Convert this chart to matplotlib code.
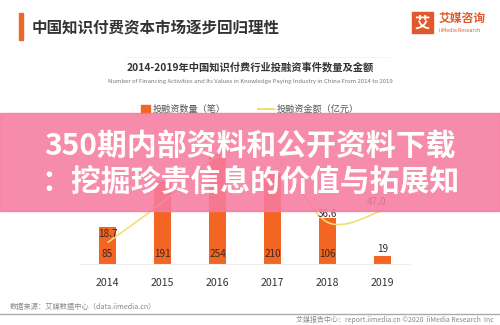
import matplotlib
matplotlib.use("Agg")
import matplotlib.pyplot as plt
from matplotlib.patches import Rectangle, PathPatch
from matplotlib.path import Path
from matplotlib.lines import Line2D

plt.rcParams['font.family'] = ['Noto Sans CJK SC', 'DejaVu Sans']

years = ['2014', '2015', '2016', '2017', '2018', '2019']
deal_counts = [85, 191, 254, 210, 106, 19]
deal_amounts = [18.7, 54.1, 93.9, 95.5, 36.6, 47.0]
# labels drawn on the amount line
amount_labels = {0: '18.7', 4: '36.6', 5: '47.0'}

BAR_COLOR = '#F26522'
LINE_COLOR = '#F5DC73'
W, H = 500, 325


def fx(px):
    return px / W


def fy(py):
    return 1 - py / H


def smooth_path(xs, ys, k=0.16):
    # cubic bezier through every point, tangents from neighbours
    verts = [(xs[0], ys[0])]
    codes = [Path.MOVETO]
    n = len(xs)
    for i in range(n - 1):
        p0 = (xs[max(i - 1, 0)], ys[max(i - 1, 0)])
        p1 = (xs[i], ys[i])
        p2 = (xs[i + 1], ys[i + 1])
        p3 = (xs[min(i + 2, n - 1)], ys[min(i + 2, n - 1)])
        c1 = (p1[0] + (p2[0] - p0[0]) * k, p1[1] + (p2[1] - p0[1]) * k)
        c2 = (p2[0] - (p3[0] - p1[0]) * k, p2[1] - (p3[1] - p1[1]) * k)
        verts += [c1, c2, p2]
        codes += [Path.CURVE4] * 3
    return Path(verts, codes)


fig = plt.figure(figsize=(5, 3.25), dpi=100)
fig.patch.set_facecolor('white')

# header
fig.patches.append(Rectangle((fx(19), fy(40)), 4 / W, 27 / H, transform=fig.transFigure,
                             color='#E8692A', zorder=2))
fig.text(fx(32), fy(27), '中国知识付费资本市场逐步回归理性', fontsize=11.2, fontweight='bold',
         color='#333333', va='center', ha='left')

# logo
fig.patches.append(Rectangle((fx(412), fy(33)), 21 / W, 21 / H, transform=fig.transFigure,
                             color='#E2582A', zorder=2))
fig.text(fx(422.5), fy(22.5), '艾', fontsize=11, fontweight='bold', color='white',
         ha='center', va='center', zorder=3)
fig.text(fx(439), fy(18), '艾媒咨询', fontsize=8.5, fontweight='bold', color='#E2582A',
         ha='left', va='center')
fig.text(fx(439), fy(30), 'iiMedia Research', fontsize=3.8, color='#E2582A',
         ha='left', va='center')

fig.add_artist(Line2D([fx(125), fx(390)], [fy(57), fy(57)], color='#EEEEEE', lw=0.6,
                      linestyle=(0, (2, 1))))

# chart titles
fig.text(0.5, fy(67), '2014-2019年中国知识付费行业投融资事件数量及金额', fontsize=7.4,
         fontweight='bold', color='#333333', ha='center', va='center')
fig.text(0.5, fy(82), 'Number of Financing Activities and Its Values in Knowledge Paying Industry in China From 2014 to 2019',
         fontsize=4.3, color='#777777', ha='center', va='center')

# legend
fig.patches.append(Rectangle((fx(141), fy(113)), 9 / W, 8 / H, transform=fig.transFigure,
                             color=BAR_COLOR, zorder=2))
fig.text(fx(153), fy(109), '投融资数量（笔）', fontsize=6.6, color='#555555', ha='left', va='center')
fig.add_artist(Line2D([fx(258), fx(274)], [fy(109), fy(109)], color=LINE_COLOR, lw=1.5))
fig.text(fx(277), fy(109), '投融资金额（亿元）', fontsize=6.6, color='#555555', ha='left', va='center')

# plot area
ax = fig.add_axes([fx(80), fy(264), 330 / W, 130 / H])
ax.set_xlim(-0.5, 5.5)
ax.set_ylim(0, 300)
x = list(range(len(years)))
ax.bar(x, deal_counts, width=0.31, color=BAR_COLOR, zorder=2)
for i, v in enumerate(deal_counts):
    y = 12 if v > 40 else v + 3
    ax.text(i, y, str(v), fontsize=7.2, color='#3A2A20', ha='center', va='bottom', zorder=4)

ax2 = ax.twinx()
ax2.set_xlim(-0.5, 5.5)
ax2.set_ylim(0, 114)
ax2.add_patch(PathPatch(smooth_path(x, deal_amounts), facecolor='none', edgecolor=LINE_COLOR,
                        lw=1.2, zorder=3))
for i, lab in amount_labels.items():
    ax2.text(i - (0.1 if i == 5 else 0), deal_amounts[i] + 3, lab, fontsize=7.2, color='#3A2A20',
             ha='center', va='bottom', zorder=4)

for a in (ax, ax2):
    for s in a.spines.values():
        s.set_visible(False)
    a.set_yticks([])
ax.spines['bottom'].set_visible(True)
ax.spines['bottom'].set_color('#EEEEEE')
ax.spines['bottom'].set_linewidth(0.8)
ax.set_xticks(x)
ax.set_xticklabels(years, fontsize=7.6, color='#333333')
ax.tick_params(axis='x', length=0, pad=10)
ax.patch.set_alpha(0)

# footer
fig.text(fx(10), fy(307), '数据来源：艾媒数据中心（data.iimedia.cn）', fontsize=5.2, color='#888888',
         ha='left', va='center')
fig.add_artist(Line2D([0, 1], [fy(314), fy(314)], color='#AAAAAA', lw=1.0))
fig.text(fx(494), fy(320), '艾媒报告中心：report.iimedia.cn ©2020  iiMedia Research  Inc', fontsize=5,
         color='#888888', ha='right', va='center')

# pink banner across the chart
fig.patches.append(Rectangle((0, fy(211)), 1, 98 / H, transform=fig.transFigure,
                             color='#F77BA0', alpha=0.88, zorder=10))
fig.text(0.5, fy(146), '350期内部资料和公开资料下载', fontsize=21.5, fontweight='bold',
         color='white', ha='center', va='center', zorder=11)
fig.text(0.5, fy(183), '：挖掘珍贵信息的价值与拓展知', fontsize=21.5, fontweight='bold',
         color='white', ha='center', va='center', zorder=11)

fig.savefig('out.png', dpi=100)
